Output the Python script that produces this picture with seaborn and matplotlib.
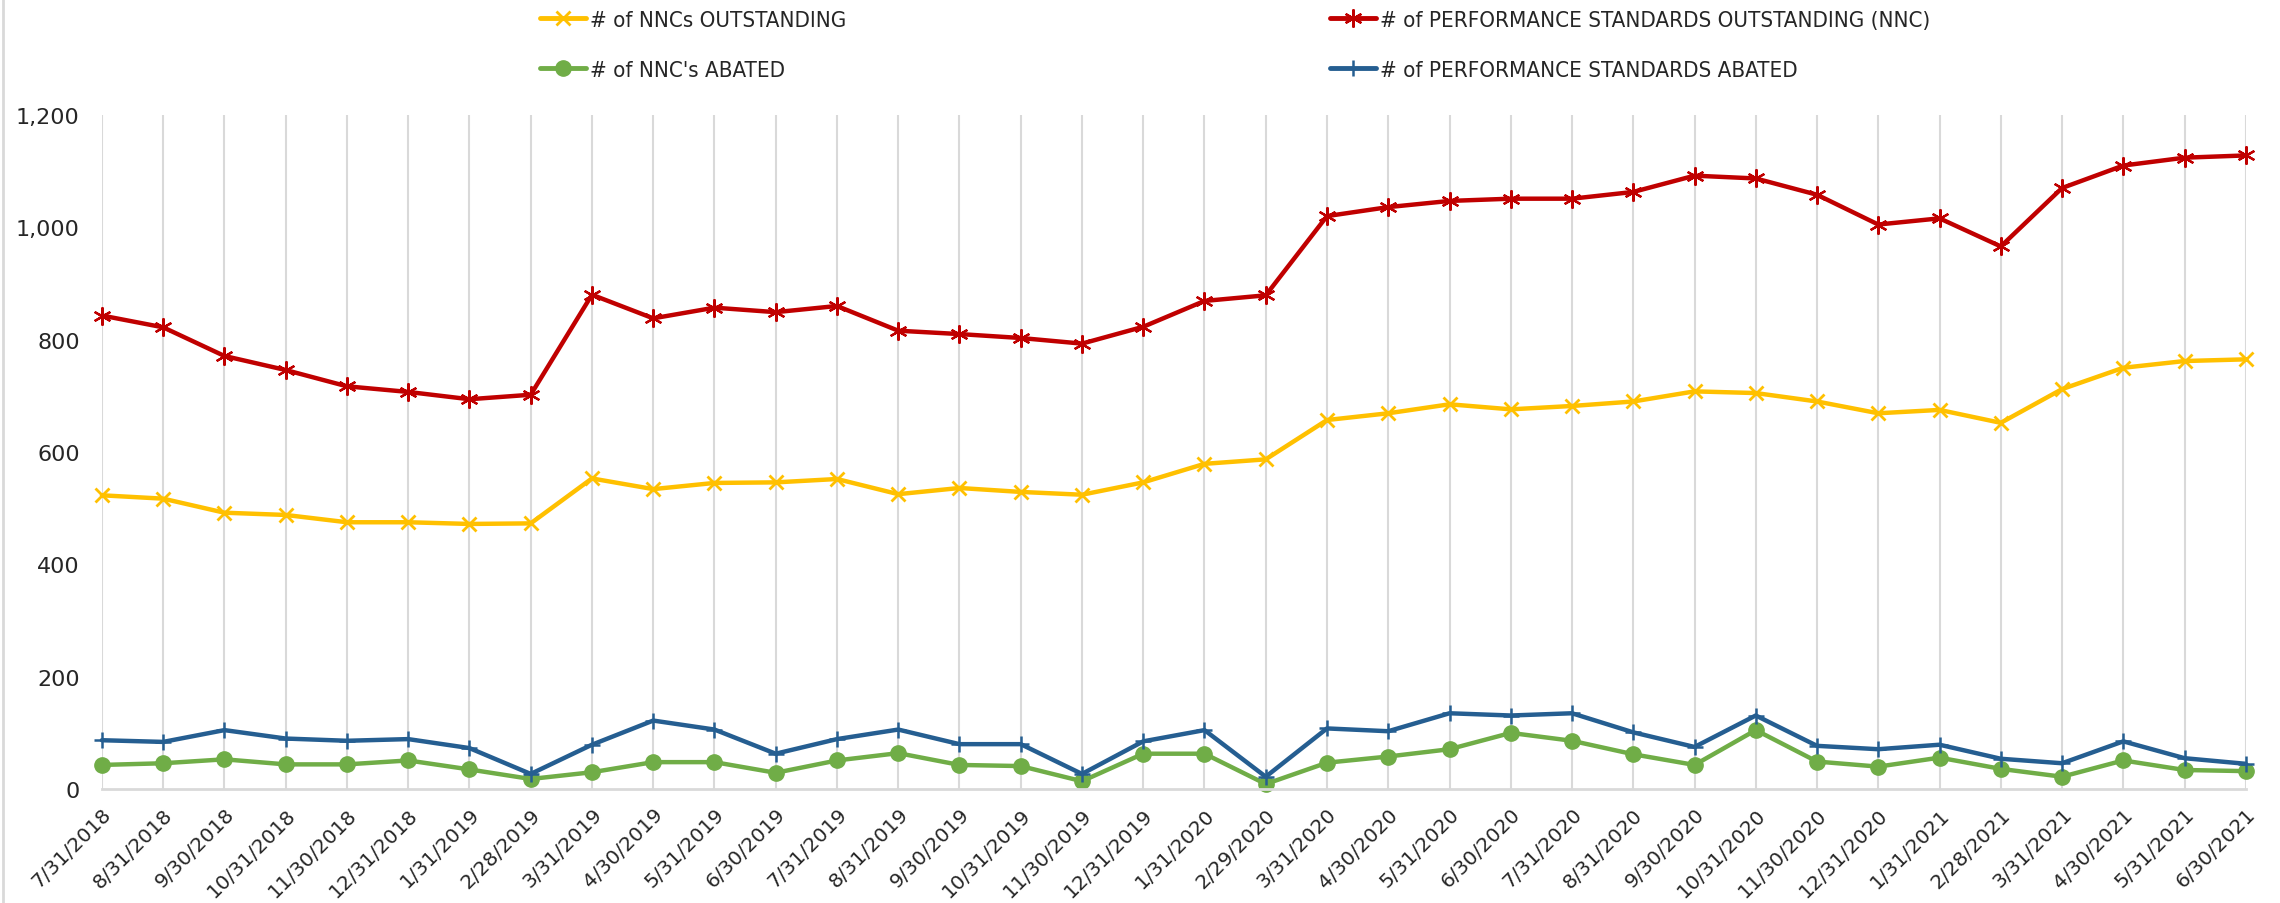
import numpy as np
import pandas as pd
import matplotlib
matplotlib.use("Agg")
import matplotlib.pyplot as plt
import seaborn as sns
from matplotlib.ticker import FuncFormatter
from matplotlib.lines import Line2D


# month-end dates
dates = ['7/31/2018', '8/31/2018', '9/30/2018', '10/31/2018', '11/30/2018', '12/31/2018',
         '1/31/2019', '2/28/2019', '3/31/2019', '4/30/2019', '5/31/2019', '6/30/2019',
         '7/31/2019', '8/31/2019', '9/30/2019', '10/31/2019', '11/30/2019', '12/31/2019',
         '1/31/2020', '2/29/2020', '3/31/2020', '4/30/2020', '5/31/2020', '6/30/2020',
         '7/31/2020', '8/31/2020', '9/30/2020', '10/31/2020', '11/30/2020', '12/31/2020',
         '1/31/2021', '2/28/2021', '3/31/2021', '4/30/2021', '5/31/2021', '6/30/2021']

nnc_outstanding = [523, 517, 492, 488, 475, 475, 472, 473, 553, 534, 545, 546,
                   552, 525, 536, 529, 524, 546, 579, 587, 657, 669, 685, 676,
                   682, 690, 708, 705, 690, 669, 675, 652, 712, 750, 762, 765]

ps_outstanding = [843, 822, 771, 746, 717, 707, 694, 702, 880, 838, 857, 849,
                  860, 816, 810, 803, 793, 823, 869, 879, 1020, 1036, 1047, 1051,
                  1051, 1063, 1092, 1087, 1058, 1005, 1016, 966, 1070, 1110, 1124, 1128]

nnc_abated = [43, 46, 53, 44, 44, 51, 35, 18, 30, 48, 48, 29,
              51, 64, 43, 41, 14, 63, 63, 9, 47, 58, 71, 100,
              86, 62, 43, 105, 49, 40, 56, 36, 22, 51, 34, 32]

ps_abated = [87, 84, 105, 90, 86, 89, 73, 27, 79, 122, 106, 63,
             89, 106, 80, 80, 27, 85, 105, 22, 108, 103, 135, 131,
             135, 101, 75, 131, 77, 71, 79, 54, 46, 85, 55, 45]

labels = ['# of NNCs OUTSTANDING', "# of NNC's ABATED",
          '# of PERFORMANCE STANDARDS OUTSTANDING (NNC)', '# of PERFORMANCE STANDARDS ABATED']

sns.set_style('white')
plt.rcParams['font.family'] = ['DejaVu Sans']

df = pd.DataFrame({'pos': np.arange(len(dates)),
                   'nnc_out': nnc_outstanding, 'ps_out': ps_outstanding,
                   'nnc_ab': nnc_abated, 'ps_ab': ps_abated})

fig, ax = plt.subplots(figsize=(22.8, 9.04), dpi=100)
fig.subplots_adjust(left=0.0447, right=0.985, bottom=0.126, top=0.8717)

star = (6, 2, 0)
styles = [
    ('nnc_out', '#FFC000', 'x', 10, 2.0, labels[0]),
    ('ps_out', '#C00000', star, 13, 1.6, labels[2]),
    ('nnc_ab', '#70AD47', 'o', 11, 1.0, labels[1]),
    ('ps_ab', '#255E91', '+', 12, 1.8, labels[3]),
]

handles = {}
for col, color, mk, ms, mew, lab in styles:
    sns.lineplot(data=df, x='pos', y=col, ax=ax, color=color, lw=3.2,
                 marker=mk, markersize=ms, markeredgewidth=mew,
                 markeredgecolor=color, markerfacecolor=color, clip_on=False)
    handles[lab] = Line2D([], [], color=color, lw=3.5, marker=mk, markersize=ms,
                          markeredgewidth=mew, markeredgecolor=color, markerfacecolor=color)

ax.set_xlim(0, len(dates) - 1)
ax.set_ylim(0, 1200)
ax.set_yticks(range(0, 1201, 200))
ax.yaxis.set_major_formatter(FuncFormatter(lambda v, p: f'{int(v):,}'))
ax.set_xticks(df['pos'])
ax.set_xticklabels(dates, rotation=45, ha='right', rotation_mode='anchor',
                   fontsize=14.5, color='#262626')
ax.tick_params(axis='y', labelsize=16, length=0, pad=16, labelcolor='#262626')
ax.tick_params(axis='x', length=0, pad=11)
ax.set_xlabel('')
ax.set_ylabel('')

ax.xaxis.grid(True, color='#d9d9d9', lw=1.5)
ax.yaxis.grid(False)
for s in ['top', 'right', 'left']:
    ax.spines[s].set_visible(False)
ax.spines['bottom'].set_color('#d9d9d9')
ax.spines['bottom'].set_linewidth(2)
ax.set_axisbelow(True)

leg_kw = dict(frameon=False, handlelength=2.05, handletextpad=0.2,
              labelspacing=1.35, borderpad=0, borderaxespad=0, loc='upper left',
              prop={'size': 16, 'stretch': 'condensed'})
l1 = fig.legend([handles[labels[0]], handles[labels[1]]], labels[:2],
                bbox_to_anchor=(540 / 2280, 1 - 11 / 904), **leg_kw)
l2 = fig.legend([handles[labels[2]], handles[labels[3]]], labels[2:],
                bbox_to_anchor=(1330 / 2280, 1 - 11 / 904), **leg_kw)

# chart frame edge on the left
fig.add_artist(Line2D([0.0012, 0.0012], [0, 1], transform=fig.transFigure,
                      color='#d9d9d9', lw=2))

fig.savefig('out.png', dpi=100)
